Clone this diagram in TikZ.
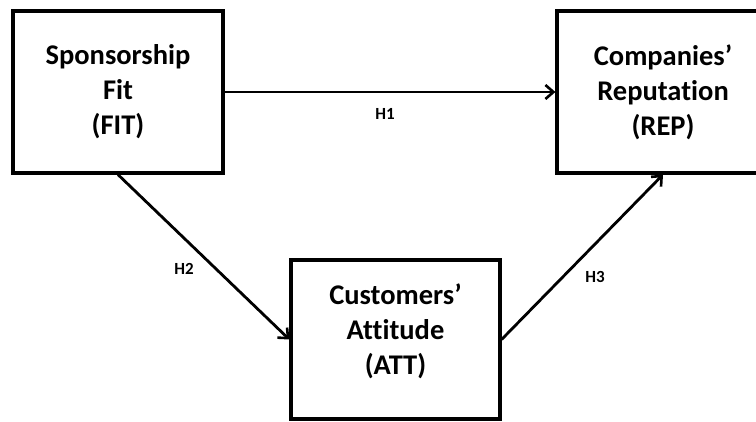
\documentclass[tikz,border=0pt]{standalone}
\usepackage{fontspec}
\setmainfont{Carlito}[Ligatures=CommonOff]
\usetikzlibrary{arrows.meta,positioning}
\tikzset{mybox/.style={
  shape=rectangle,
  draw=black,
  line width=3.2pt,
  align=center,
  font=\bfseries\fontsize{28.5}{35}\selectfont,
  text = black,
  }
}
\tikzset{myhyp/.style={
  font=\bfseries\fontsize{17}{20}\selectfont,
  inner sep=0pt,
  text = black,
  }
}
\tikzset{mypath/.style={
  draw=black,
  line width=2.8pt,
  -{Straight Barb[length=8pt,width=14pt,line width=2.6pt]},
  }
}

\begin{document}
\begin{tikzpicture}[x=1pt,y=-1pt]
  \useasboundingbox (0,0) rectangle (756,421);
  \node [mybox, minimum width=210pt, minimum height=162pt] (fit) at (118,92)
    {Sponsorship\\Fit\\(FIT)};
  \node [mybox, minimum width=212pt, minimum height=162pt] (rep) at (663,92)
    {Companies’\\Reputation\\(REP)};
  \node [mybox, minimum width=209pt, minimum height=159pt, text depth=21pt] (att) at (395.5,339.5)
    {Customers’\\Attitude\\(ATT)};

  \node [myhyp] (h1) at (385,114) {H1};
  \node [myhyp] (h2) at (184,269) {H2};
  \node [myhyp] (h3) at (595,277) {H3};

  \draw [mypath] (fit.east) -- (rep.west);
  \draw [mypath] (fit.south) -- (att.west);
  \draw [mypath] (att.east) -- (rep.south);
\end{tikzpicture}
\end{document}
